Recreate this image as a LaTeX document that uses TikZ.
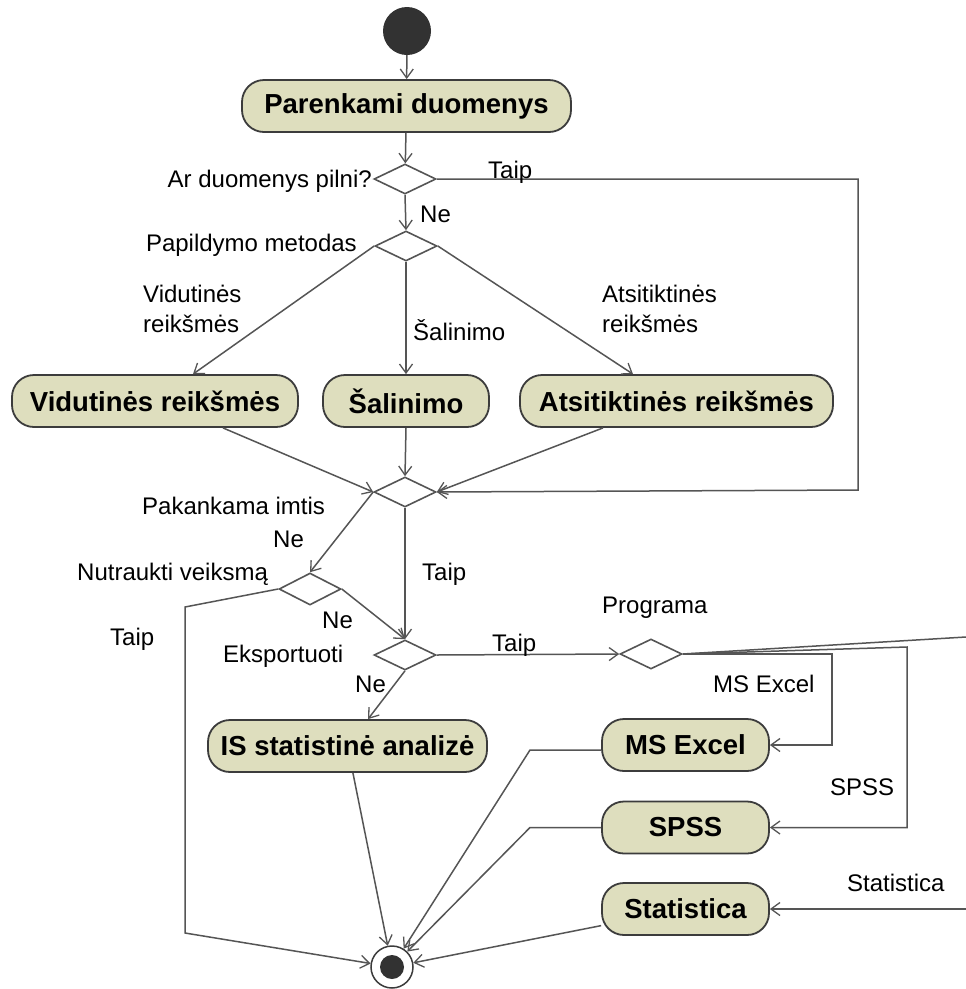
\documentclass[tikz,border=0pt]{standalone}
\usepackage{fontspec}
\setmainfont{Liberation Sans}
\usetikzlibrary{shapes.geometric,arrows.meta}

\definecolor{actfill}{RGB}{222,222,190}
\definecolor{edgecol}{RGB}{85,85,85}
\definecolor{framecol}{RGB}{60,60,60}
\definecolor{dotcol}{RGB}{50,50,50}

\tikzset{
  action/.style={draw=framecol, line width=1.8pt, fill=actfill, rounded corners=22pt,
    minimum height=52pt, inner sep=0pt, text=black,
    font=\fontsize{27.5}{30}\selectfont\bfseries},
  choice/.style={draw=edgecol, line width=1.6pt, diamond, aspect=2,
    minimum width=62pt, minimum height=30pt, inner sep=0pt, fill=white},
  flow/.style={draw=edgecol, line width=1.5pt,
    -{Straight Barb[length=9pt,width=13pt,line width=1.3pt]}},
  plain/.style={draw=edgecol, line width=1.5pt},
  lbl/.style={font=\fontsize{24}{28}\selectfont, inner sep=0pt, text=black},
}

\begin{document}
\begin{tikzpicture}[x=1pt,y=-1pt]
  % canvas
  \fill[white] (0,0) rectangle (966,989);
  \useasboundingbox (0,0) rectangle (966,989);

  % initial and final nodes
  \node[circle, fill=dotcol, minimum size=48pt, inner sep=0pt] (start) at (407,31) {};
  \node[circle, draw=framecol, line width=1.5pt, fill=white, minimum size=42pt, inner sep=0pt] (fin) at (392,967) {};
  \node[circle, fill=dotcol, minimum size=24pt, inner sep=0pt] (findot) at (fin) {};

  % actions
  \node[action, minimum width=329pt] (par)  at (406.5,106) {Parenkami duomenys};
  \node[action, minimum width=286pt] (vid)  at (155,401) {Vidutinės reikšmės};
  \node[action, minimum width=166pt] (sal)  at (406,401) {Šalinimo};
  \node[action, minimum width=313pt] (atsi) at (676.5,401) {Atsitiktinės reikšmės};
  \node[action, minimum width=279pt] (is)   at (347.5,746) {IS statistinė analizė};
  \node[action, minimum width=167pt] (excel) at (685.5,745) {MS Excel};
  \node[action, minimum width=167pt] (spss)  at (685.5,827.5) {SPSS};
  \node[action, minimum width=167pt] (stat)  at (685.5,909) {Statistica};

  % decisions
  \node[choice] (d1)   at (405,179) {};
  \node[choice] (d2)   at (406,246) {};
  \node[choice] (d3)   at (405,492) {};
  \node[choice, minimum height=32pt] (d4) at (310,589) {};
  \node[choice] (d5)   at (405,655) {};
  \node[choice] (prog) at (651,654) {};

  % bend points
  \coordinate (loopA) at (858,179);
  \coordinate (loopB) at (858,490);
  \coordinate (stopA) at (185,607);
  \coordinate (stopB) at (185,933);
  \coordinate (xlA) at (832,654);
  \coordinate (xlB) at (832,745);
  \coordinate (spA) at (907,647);
  \coordinate (spB) at (907,827.5);
  \coordinate (stOut) at (966,637);
  \coordinate (stIn) at (966,909);
  \coordinate (xlBack) at (530,750);
  \coordinate (spBack) at (530,827.5);

  % flows
  \draw[flow] (start) -- (par);
  \draw[flow] (par) -- (d1);
  \draw[flow] (d1.east) -- (loopA) -- (loopB) -- (d3.east);
  \draw[flow] (d1.south) -- (d2.north);
  \draw[flow] (d2.west) -- ([xshift=38pt]vid.north);
  \draw[flow] (d2.south) -- (sal.north);
  \draw[flow] (d2.east) -- ([xshift=-43.5pt]atsi.north);
  \draw[flow] ([xshift=68pt]vid.south) -- (d3.west);
  \draw[flow] (sal.south) -- (d3.north);
  \draw[flow] ([xshift=-73.5pt]atsi.south) -- (d3.east);
  \draw[flow] (d3.west) -- (d4.north);
  \draw[flow] (d3.south) -- (d5.north);
  \draw[flow] (d4.east) -- (d5.north);
  \draw[flow] (d4.west) -- (stopA) -- (stopB) -- (fin);
  \draw[flow] (d5.south) -- ([xshift=20.5pt]is.north);
  \draw[flow] (d5.east) -- (prog.west);
  \draw[flow] (prog.east) -- (xlA) -- (xlB) -- (excel.east);
  \draw[flow] (prog.east) -- (spA) -- (spB) -- (spss.east);
  \draw[plain] (prog.east) -- (stOut);
  \draw[flow] (stIn) -- (stat.east);
  \draw[flow] (is) -- (fin);
  \draw[flow] ([yshift=-5pt]excel.west) -- (xlBack) -- (fin);
  \draw[flow] (spss.west) -- (spBack) -- (fin);
  \draw[flow] (stat) -- (fin);

  % guards and decision names
  \node[lbl, anchor=base east] (tq1) at (372,187) {Ar duomenys pilni?};
  \node[lbl, anchor=base west] (ty1) at (488,178) {Taip};
  \node[lbl, anchor=base west] (tn1) at (420,222) {Ne};
  \node[lbl, anchor=base east] (tq2) at (357,251) {Papildymo metodas};
  \node[lbl, anchor=base west] (tv1) at (143,302) {Vidutinės};
  \node[lbl, anchor=base west] (tv2) at (143,332) {reikšmės};
  \node[lbl, anchor=base west] (ts)  at (413,340) {Šalinimo};
  \node[lbl, anchor=base west] (ta1) at (602,302) {Atsitiktinės};
  \node[lbl, anchor=base west] (ta2) at (602,332) {reikšmės};
  \node[lbl, anchor=base west] (tq3) at (142,514) {Pakankama imtis};
  \node[lbl, anchor=base west] (tn3) at (273,547) {Ne};
  \node[lbl, anchor=base west] (tq4) at (77,580) {Nutraukti veiksmą};
  \node[lbl, anchor=base west] (ty3) at (422,580) {Taip};
  \node[lbl, anchor=base west] (tn4) at (322,628) {Ne};
  \node[lbl, anchor=base west] (ty4) at (110,645) {Taip};
  \node[lbl, anchor=base west] (tq5) at (223,662) {Eksportuoti};
  \node[lbl, anchor=base west] (ty5) at (492,651) {Taip};
  \node[lbl, anchor=base west] (tn5) at (355,692) {Ne};
  \node[lbl, anchor=base west] (tq6) at (602,613) {Programa};
  \node[lbl, anchor=base west] (tx)  at (713,692) {MS Excel};
  \node[lbl, anchor=base west] (tsp) at (830,795) {SPSS};
  \node[lbl, anchor=base west] (tst) at (847,891) {Statistica};
\end{tikzpicture}
\end{document}
